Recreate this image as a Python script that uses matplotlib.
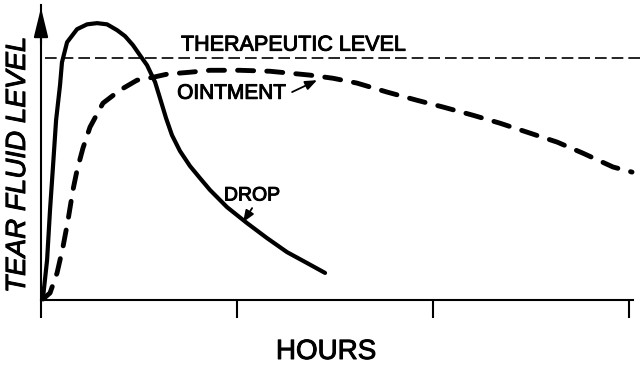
import matplotlib.pyplot as plt
import matplotlib.patheffects as pe

plt.rcParams['font.family'] = ['Liberation Sans', 'DejaVu Sans']

# time in tick intervals, level relative to the therapeutic level (=1)
drop_t = [0.010, 0.031, 0.046, 0.061, 0.077, 0.097, 0.107, 0.133, 0.184, 0.235,
          0.286, 0.337, 0.388, 0.429, 0.469, 0.505, 0.541, 0.582, 0.607, 0.638,
          0.668, 0.709, 0.760, 0.811, 0.862, 0.949, 1.051, 1.153, 1.255, 1.357,
          1.449]
drop_lvl = [0.008, 0.165, 0.372, 0.550, 0.744, 0.888, 0.983, 1.066, 1.120, 1.140,
            1.145, 1.140, 1.116, 1.091, 1.054, 1.012, 0.971, 0.901, 0.835, 0.752,
            0.682, 0.616, 0.554, 0.504, 0.455, 0.384, 0.318, 0.256, 0.198, 0.153,
            0.112]

oint_t = [0.010, 0.046, 0.082, 0.112, 0.138, 0.163, 0.184, 0.214, 0.250, 0.316,
          0.403, 0.490, 0.571, 0.643, 0.760, 0.862, 1.015, 1.168, 1.270, 1.372,
          1.490, 1.612, 1.765, 1.918, 2.051, 2.204, 2.342, 2.495, 2.633, 2.765,
          2.918, 3.015]
oint_lvl = [0.004, 0.029, 0.112, 0.219, 0.331, 0.455, 0.537, 0.628, 0.715, 0.814,
            0.868, 0.909, 0.921, 0.934, 0.942, 0.950, 0.950, 0.946, 0.938, 0.930,
            0.917, 0.897, 0.860, 0.826, 0.798, 0.764, 0.731, 0.690, 0.653, 0.607,
            0.550, 0.529]

therapeutic = 1.0
ticks = [0, 1, 2, 3]

fig = plt.figure(figsize=(6.4, 3.68), dpi=100)
ax = fig.add_axes([41 / 640, 68 / 368, 592 / 640, 295 / 368])
ax.set_xlim(0, 3.02)
ax.set_ylim(0, 1.22)

# therapeutic level
ax.plot([0.02, 3.06], [therapeutic, therapeutic], color='k', lw=1.2,
        dashes=(7, 3), clip_on=False)

ax.plot(drop_t, drop_lvl, color='k', lw=3, solid_joinstyle='round',
        solid_capstyle='round', clip_on=False)
ax.plot(oint_t, oint_lvl, color='k', lw=3.5, dashes=(3.3, 2.7),
        dash_capstyle='round', clip_on=False)

for s in ['top', 'right']:
    ax.spines[s].set_visible(False)
for s in ['left', 'bottom']:
    ax.spines[s].set_linewidth(1.5)
ax.set_xticks(ticks)
ax.set_xticklabels([])
ax.set_yticks([])
ax.tick_params(axis='x', direction='out', length=13, width=1.5)

# arrow on the y axis
ax.annotate('', xy=(0, 1.22), xytext=(0, 1.05),
            arrowprops=dict(arrowstyle='-|>,head_length=0.9,head_width=0.22',
                            mutation_scale=20, lw=1.5, color='k'),
            annotation_clip=False)

bold = [pe.withStroke(linewidth=0.7, foreground='k')]
ax.text(1.286, 1.054, 'THERAPEUTIC LEVEL', fontsize=15.5, ha='center', va='center',
        path_effects=bold)
ax.text(0.974, 0.855, 'OINTMENT', fontsize=15, ha='center', va='center',
        path_effects=bold)
ax.text(1.077, 0.430, 'DROP', fontsize=14, ha='center', va='center',
        path_effects=bold)

arrow = dict(arrowstyle='-|>,head_length=0.5,head_width=0.2', mutation_scale=14,
             lw=1.3, color='k', shrinkA=0, shrinkB=0)
ax.annotate('', xy=(1.408, 0.909), xytext=(1.281, 0.860), arrowprops=arrow)
ax.annotate('', xy=(1.031, 0.322), xytext=(1.077, 0.380), arrowprops=arrow)

fig.text(326 / 640, 1 - 352 / 368, 'HOURS', fontsize=20, ha='center', va='center',
         path_effects=bold)
fig.text(18 / 640, 1 - 165 / 368, 'TEAR FLUID LEVEL', fontsize=20, style='italic',
         rotation=90, ha='center', va='center', path_effects=bold)

fig.savefig('out.png', dpi=100)
